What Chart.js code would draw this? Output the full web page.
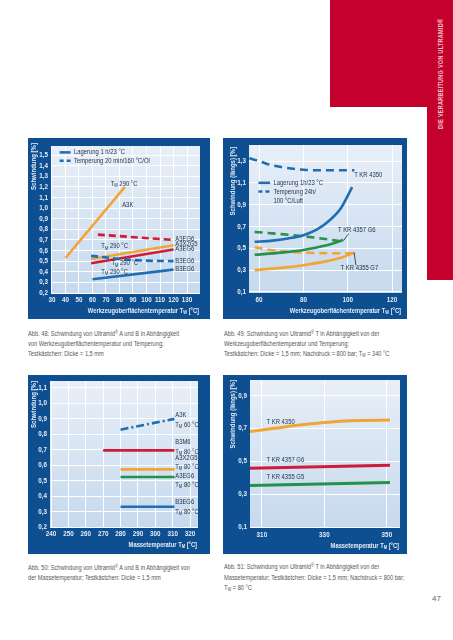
<!DOCTYPE html>
<html>
<head>
<meta charset="utf-8">
<script src="https://cdn.jsdelivr.net/npm/chart.js@4"></script>
<style>
  body { margin: 0; width: 453px; height: 640px; background: #fff; position: relative; overflow: hidden;
         font-family: "Liberation Sans", Arial, sans-serif; }
  .frame { position: absolute; background: #0d4f91; }
  .frame canvas { display: block; }
  .cap { position: absolute; font-size: 6.6px; line-height: 10px; color: #585858; white-space: nowrap;
         transform: scaleX(0.86); transform-origin: 0 0; }
  .cap sub { font-size: 4.6px; vertical-align: -1px; }
  .cap sup { font-size: 4.6px; vertical-align: 2px; }
  .red { position: absolute; background: #c4002c; }
  .side { position: absolute; left: 380px; top: 74px; width: 120px; height: 9px; line-height: 9px; text-align: center;
          transform: rotate(-90deg) scaleX(0.84); color: #f3c2cc; font-size: 6.5px; font-weight: bold;
          letter-spacing: 0.35px; white-space: nowrap; }
  .page { position: absolute; left: 432px; top: 594px; font-size: 8px; color: #666; }
</style>
</head>
<body>

<div class="red" style="left:330px;top:0;width:123px;height:107px"></div>
<div class="red" style="left:427px;top:0;width:26px;height:280px"></div>
<div class="side">DIE VERARBEITUNG VON ULTRAMID®</div>

<div class="frame" style="left:28px;top:138px;width:182px;height:181px"><canvas id="c1" width="182" height="181"></canvas></div>
<div class="frame" style="left:223px;top:138px;width:184px;height:181px"><canvas id="c2" width="184" height="181"></canvas></div>
<div class="frame" style="left:28px;top:375px;width:182px;height:179px"><canvas id="c3" width="182" height="179"></canvas></div>
<div class="frame" style="left:223px;top:375px;width:184px;height:179px"><canvas id="c4" width="184" height="179"></canvas></div>

<div class="cap" style="left:28px;top:328px">Abb. 48: Schwindung von Ultramid<sup>®</sup> A und B in Abhängigkeit<br>von Werkzeugoberflächentemperatur und Temperung;<br>Testkästchen: Dicke = 1,5 mm</div>
<div class="cap" style="left:224px;top:328px">Abb. 49: Schwindung von Ultramid<sup>®</sup> T in Abhängigkeit von der<br>Werkzeugoberflächentemperatur und Temperung;<br>Testkästchen: Dicke = 1,5 mm; Nachdruck = 800 bar; T<sub>M</sub> = 340 °C</div>
<div class="cap" style="left:28px;top:562px">Abb. 50: Schwindung von Ultramid<sup>®</sup> A und B in Abhängigkeit von<br>der Massetemperatur; Testkästchen: Dicke = 1,5 mm</div>
<div class="cap" style="left:224px;top:561px;line-height:10.7px">Abb. 51: Schwindung von Ultramid<sup>®</sup> T in Abhängigkeit von der<br>Massetemperatur; Testkästchen: Dicke = 1,5 mm; Nachdruck = 800 bar;<br>T<sub>W</sub> = 80 °C</div>
<div class="page">47</div>

<script>
// --- Abb. 48: shrinkage vs mould temperature (A and B grades)
const c1XTicks = [30, 40, 50, 60, 70, 80, 90, 100, 110, 120, 130];
const c1YTicks = [0.2, 0.3, 0.4, 0.5, 0.6, 0.7, 0.8, 0.9, 1.0, 1.1, 1.2, 1.3, 1.4, 1.5];
const a3kX = [40, 84];
const a3kY = [0.53, 1.2];
const a3eg6TempX = [64, 120];
const a3eg6TempY = [0.75, 0.70];
const a3x2g5X = [59, 120];
const a3x2g5Y = [0.52, 0.65];
const a3eg6X = [59, 120];
const a3eg6Y = [0.48, 0.61];
const b3eg6TempX = [59, 70, 80, 100, 120];
const b3eg6TempY = [0.55, 0.535, 0.52, 0.505, 0.50];
const b3eg6X = [60, 120];
const b3eg6Y = [0.33, 0.42];

// --- Abb. 49: Ultramid T vs mould temperature
const c2XTicks = [60, 80, 100, 120];
const c2YTicks = [0.1, 0.3, 0.5, 0.7, 0.9, 1.1, 1.3];
const kr4350X = [58, 66, 73, 80, 86, 92, 97, 102];
const kr4350Y = [0.56, 0.57, 0.59, 0.62, 0.67, 0.76, 0.87, 1.06];
const kr4350TempX = [55.6, 60, 65, 70, 80, 90, 103];
const kr4350TempY = [1.325, 1.30, 1.265, 1.245, 1.22, 1.215, 1.215];
const kr4357X = [58, 70, 80, 90, 98];
const kr4357Y = [0.44, 0.46, 0.485, 0.525, 0.575];
const kr4357TempX = [58, 70, 80, 90, 98];
const kr4357TempY = [0.65, 0.63, 0.61, 0.585, 0.56];
const kr4355X = [58, 70, 80, 90, 98, 103];
const kr4355Y = [0.30, 0.32, 0.345, 0.38, 0.42, 0.46];
const kr4355TempX = [58, 65, 72, 80, 90, 103];
const kr4355TempY = [0.51, 0.485, 0.47, 0.46, 0.455, 0.455];

// --- Abb. 50: A and B vs melt temperature
const c3XTicks = [240, 250, 260, 270, 280, 290, 300, 310, 320];
const c3YTicks = [0.2, 0.3, 0.4, 0.5, 0.6, 0.7, 0.8, 0.9, 1.0, 1.1];
const m_a3kX = [280, 311];
const m_a3kY = [0.83, 0.9];
const m_b3m6X = [270, 311];
const m_b3m6Y = [0.696, 0.696];
const m_a3x2g5X = [280, 311];
const m_a3x2g5Y = [0.573, 0.573];
const m_a3eg6X = [280, 311];
const m_a3eg6Y = [0.524, 0.524];
const m_b3eg6X = [280, 311];
const m_b3eg6Y = [0.331, 0.331];

// --- Abb. 51: Ultramid T vs melt temperature
const c4XTicks = [310, 330, 350];
const c4YTicks = [0.1, 0.3, 0.5, 0.7, 0.9];
const m_kr4350X = [306, 314, 322, 330, 340, 351];
const m_kr4350Y = [0.68, 0.70, 0.72, 0.735, 0.748, 0.75];
const m_kr4357X = [306, 351];
const m_kr4357Y = [0.457, 0.475];
const m_kr4355X = [306, 351];
const m_kr4355Y = [0.353, 0.37];

const FONT = '"Liberation Sans", Arial, sans-serif';
const SX = 0.84;          // squeeze, the print uses a condensed face
const TICK = '#e6edf6';
const INK = '#24364c';
const BLUE = '#1f6db3', ORANGE = '#f0a535', RED = '#cf1b3a', GREEN = '#23924a';

function pts(xs, ys) { return xs.map((x, i) => ({ x: x, y: ys[i] })); }
function comma(v) { return v.toFixed(1).replace('.', ','); }

// text with "_X" meaning subscript X, squeezed horizontally
function richText(ctx, str, x, y, size, align, bold) {
  const parts = str.split(/_(.)/);
  const w = bold ? 'bold ' : '';
  const big = w + size + 'px ' + FONT;
  const small = w + (size * 0.7).toFixed(1) + 'px ' + FONT;
  let total = 0;
  parts.forEach((p, i) => { ctx.font = i % 2 ? small : big; total += ctx.measureText(p).width * SX; });
  let cx = align === 'right' ? x - total : (align === 'center' ? x - total / 2 : x);
  ctx.textAlign = 'left';
  ctx.textBaseline = 'middle';
  parts.forEach((p, i) => {
    ctx.font = i % 2 ? small : big;
    ctx.save();
    ctx.translate(cx, i % 2 ? y + size * 0.3 : y);
    ctx.scale(SX, 1);
    ctx.fillText(p, 0, 0);
    ctx.restore();
    cx += ctx.measureText(p).width * SX;
  });
}

function annotPlugin(spec) {
  return {
    id: 'annot',
    beforeDraw(chart) {
      const { ctx, chartArea: a } = chart;
      const g = ctx.createLinearGradient(0, a.top, 0, a.bottom);
      g.addColorStop(0, '#e8eff8');
      g.addColorStop(1, '#c6d9ee');
      ctx.save();
      ctx.fillStyle = g;
      ctx.fillRect(a.left, a.top, a.right - a.left, a.bottom - a.top);
      ctx.restore();
    },
    afterDatasetsDraw(chart) {
      const { ctx, chartArea: a, scales } = chart;
      const x = scales.x, y = scales.y;
      ctx.save();
      (spec.keys || []).forEach(l => {
        ctx.strokeStyle = l.color;
        ctx.lineWidth = l.width || 2.5;
        ctx.setLineDash(l.dash || []);
        ctx.beginPath();
        ctx.moveTo(x.getPixelForValue(l.x1), y.getPixelForValue(l.y1));
        ctx.lineTo(x.getPixelForValue(l.x2), y.getPixelForValue(l.y2));
        ctx.stroke();
      });
      ctx.setLineDash([]);
      ctx.fillStyle = INK;
      (spec.notes || []).forEach(n => {
        richText(ctx, n.t, x.getPixelForValue(n.x), y.getPixelForValue(n.y), 7, 'left', false);
      });
      // tick labels and axis titles
      ctx.fillStyle = TICK;
      spec.xTicks.forEach(v => richText(ctx, String(v), x.getPixelForValue(v), a.bottom + 6.5, 7.5, 'center', true));
      spec.yTicks.forEach(v => richText(ctx, comma(v), a.left - 3, y.getPixelForValue(v), 7.5, 'right', true));
      richText(ctx, spec.xTitle, a.right - 1, a.bottom + 18, 6.9, 'right', true);
      ctx.save();
      ctx.translate(spec.yTitlePos[0], a.top + spec.yTitlePos[1]);
      ctx.rotate(-Math.PI / 2);
      richText(ctx, spec.yTitle, 0, 0, 7.2, 'right', true);
      ctx.restore();
      ctx.restore();
    }
  };
}

function makeChart(id, cfg) {
  return new Chart(document.getElementById(id), {
    type: 'line',
    data: {
      datasets: cfg.datasets.map(d => ({
        data: d.data,
        borderColor: d.color,
        borderWidth: d.width || 2.6,
        borderDash: d.dash || [],
        borderCapStyle: 'butt',
        pointRadius: 0,
        fill: false,
        cubicInterpolationMode: d.smooth ? 'monotone' : 'default',
        tension: d.smooth ? 0.4 : 0
      }))
    },
    options: {
      responsive: false,
      animation: false,
      events: [],
      layout: { padding: { left: 0, top: cfg.pad[0], right: cfg.pad[1], bottom: 0 } },
      plugins: { legend: { display: false }, tooltip: { enabled: false } },
      scales: {
        x: {
          type: 'linear', min: cfg.xRange[0], max: cfg.xRange[1],
          afterBuildTicks: s => { s.ticks = cfg.xTicks.map(v => ({ value: v })); },
          afterFit: s => { s.height = cfg.pad[2]; },
          grid: { color: '#ffffff', lineWidth: 1, drawTicks: false },
          border: { display: false },
          ticks: { display: false, autoSkip: false }
        },
        y: {
          type: 'linear', min: cfg.yRange[0], max: cfg.yRange[1],
          afterBuildTicks: s => { s.ticks = cfg.yTicks.map(v => ({ value: v })); },
          afterFit: s => { s.width = cfg.pad[3]; },
          grid: { color: '#ffffff', lineWidth: 1, drawTicks: false },
          border: { display: false },
          ticks: { display: false, autoSkip: false }
        }
      }
    },
    plugins: [annotPlugin(cfg)]
  });
}

// Abb. 48
makeChart('c1', {
  pad: [8, 10, 26, 23],
  xRange: [29.3, 139.6], yRange: [0.2, 1.585],
  xTicks: c1XTicks, yTicks: c1YTicks,
  yTitle: 'Schwindung [%]', yTitlePos: [6, -3],
  xTitle: 'Werkzeugoberflächentemperatur T_W [°C]',
  datasets: [
    { data: pts(a3kX, a3kY), color: ORANGE },
    { data: pts(a3eg6TempX, a3eg6TempY), color: RED, dash: [7, 4] },
    { data: pts(b3eg6TempX, b3eg6TempY), color: BLUE, dash: [7, 4], smooth: true },
    { data: pts(a3x2g5X, a3x2g5Y), color: ORANGE },
    { data: pts(a3eg6X, a3eg6Y), color: RED },
    { data: pts(b3eg6X, b3eg6Y), color: BLUE }
  ],
  keys: [
    { x1: 35.7, x2: 43.8, y1: 1.525, y2: 1.525, color: BLUE },
    { x1: 35.7, x2: 43.8, y1: 1.446, y2: 1.446, color: BLUE, dash: [4, 3] }
  ],
  notes: [
    { x: 46.3, y: 1.525, t: 'Lagerung 1 h/23 °C' },
    { x: 46.3, y: 1.446, t: 'Temperung 20 min/160 °C/Öl' },
    { x: 73.5, y: 1.23, t: 'T_M 290 °C' },
    { x: 82, y: 1.03, t: 'A3K' },
    { x: 66.5, y: 0.64, t: 'T_M 290 °C' },
    { x: 74, y: 0.48, t: 'T_M 290 °C' },
    { x: 66.5, y: 0.40, t: 'T_M 290 °C' },
    { x: 121.3, y: 0.71, t: 'A3EG6' },
    { x: 121.3, y: 0.66, t: 'A3X2G5' },
    { x: 121.3, y: 0.615, t: 'A3EG6' },
    { x: 121.3, y: 0.505, t: 'B3EG6' },
    { x: 121.3, y: 0.425, t: 'B3EG6' }
  ]
});

// Abb. 49
makeChart('c2', {
  pad: [7, 5, 26, 26],
  xRange: [55.45, 124.5], yRange: [0.09, 1.447],
  xTicks: c2XTicks, yTicks: c2YTicks,
  yTitle: 'Schwindung (längs) [%]', yTitlePos: [10, 2],
  xTitle: 'Werkzeugoberflächentemperatur T_W [°C]',
  datasets: [
    { data: pts(kr4350TempX, kr4350TempY), color: BLUE, dash: [8, 5], smooth: true },
    { data: pts(kr4350X, kr4350Y), color: BLUE, smooth: true },
    { data: pts(kr4357TempX, kr4357TempY), color: GREEN, dash: [8, 5], smooth: true },
    { data: pts(kr4357X, kr4357Y), color: GREEN, smooth: true },
    { data: pts(kr4355TempX, kr4355TempY), color: ORANGE, dash: [8, 5], smooth: true },
    { data: pts(kr4355X, kr4355Y), color: ORANGE, smooth: true }
  ],
  keys: [
    { x1: 59.7, x2: 65, y1: 1.10, y2: 1.10, color: BLUE },
    { x1: 59.7, x2: 65, y1: 1.02, y2: 1.02, color: BLUE, dash: [4, 3] },
    { x1: 100.4, x2: 98.2, y1: 0.635, y2: 0.572, color: '#222', width: 0.8 },
    { x1: 102.9, x2: 103.7, y1: 0.462, y2: 0.345, color: '#222', width: 0.8 }
  ],
  notes: [
    { x: 102.9, y: 1.17, t: 'T KR 4350' },
    { x: 66.5, y: 1.10, t: 'Lagerung 1h/23 °C' },
    { x: 66.5, y: 1.02, t: 'Temperung 24h/' },
    { x: 66.5, y: 0.936, t: '100 °C/Luft' },
    { x: 95.6, y: 0.668, t: 'T KR 4357 G6' },
    { x: 96.8, y: 0.317, t: 'T KR 4355 G7' }
  ]
});

// Abb. 50
makeChart('c3', {
  pad: [6, 12, 27, 22],
  xRange: [239.4, 324.6], yRange: [0.2, 1.145],
  xTicks: c3XTicks, yTicks: c3YTicks,
  yTitle: 'Schwindung [%]', yTitlePos: [6, 0],
  xTitle: 'Massetemperatur T_M [°C]',
  datasets: [
    { data: pts(m_a3kX, m_a3kY), color: BLUE, dash: [8, 3, 2, 3] },
    { data: pts(m_b3m6X, m_b3m6Y), color: RED },
    { data: pts(m_a3x2g5X, m_a3x2g5Y), color: ORANGE },
    { data: pts(m_a3eg6X, m_a3eg6Y), color: GREEN },
    { data: pts(m_b3eg6X, m_b3eg6Y), color: BLUE }
  ],
  notes: [
    { x: 311.5, y: 0.925, t: 'A3K' },
    { x: 311.5, y: 0.86, t: 'T_M 60 °C' },
    { x: 311.5, y: 0.75, t: 'B3M6' },
    { x: 311.5, y: 0.686, t: 'T_M 80 °C' },
    { x: 311.5, y: 0.647, t: 'A3X2G5' },
    { x: 311.5, y: 0.588, t: 'T_M 80 °C' },
    { x: 311.5, y: 0.53, t: 'A3EG6' },
    { x: 311.5, y: 0.472, t: 'T_M 80 °C' },
    { x: 311.5, y: 0.362, t: 'B3EG6' },
    { x: 311.5, y: 0.297, t: 'T_M 80 °C' }
  ]
});

// Abb. 51
makeChart('c4', {
  pad: [5, 7, 26, 27],
  xRange: [306.2, 354.2], yRange: [0.094, 0.994],
  xTicks: c4XTicks, yTicks: c4YTicks,
  yTitle: 'Schwindung (längs) [%]', yTitlePos: [10, 0],
  xTitle: 'Massetemperatur T_M [°C]',
  datasets: [
    { data: pts(m_kr4350X, m_kr4350Y), color: ORANGE, width: 3, smooth: true },
    { data: pts(m_kr4357X, m_kr4357Y), color: RED, width: 3 },
    { data: pts(m_kr4355X, m_kr4355Y), color: GREEN, width: 3 }
  ],
  notes: [
    { x: 311.5, y: 0.74, t: 'T KR 4350' },
    { x: 311.5, y: 0.507, t: 'T KR 4357 G6' },
    { x: 311.5, y: 0.406, t: 'T KR 4355 G5' }
  ]
});
</script>
</body>
</html>
